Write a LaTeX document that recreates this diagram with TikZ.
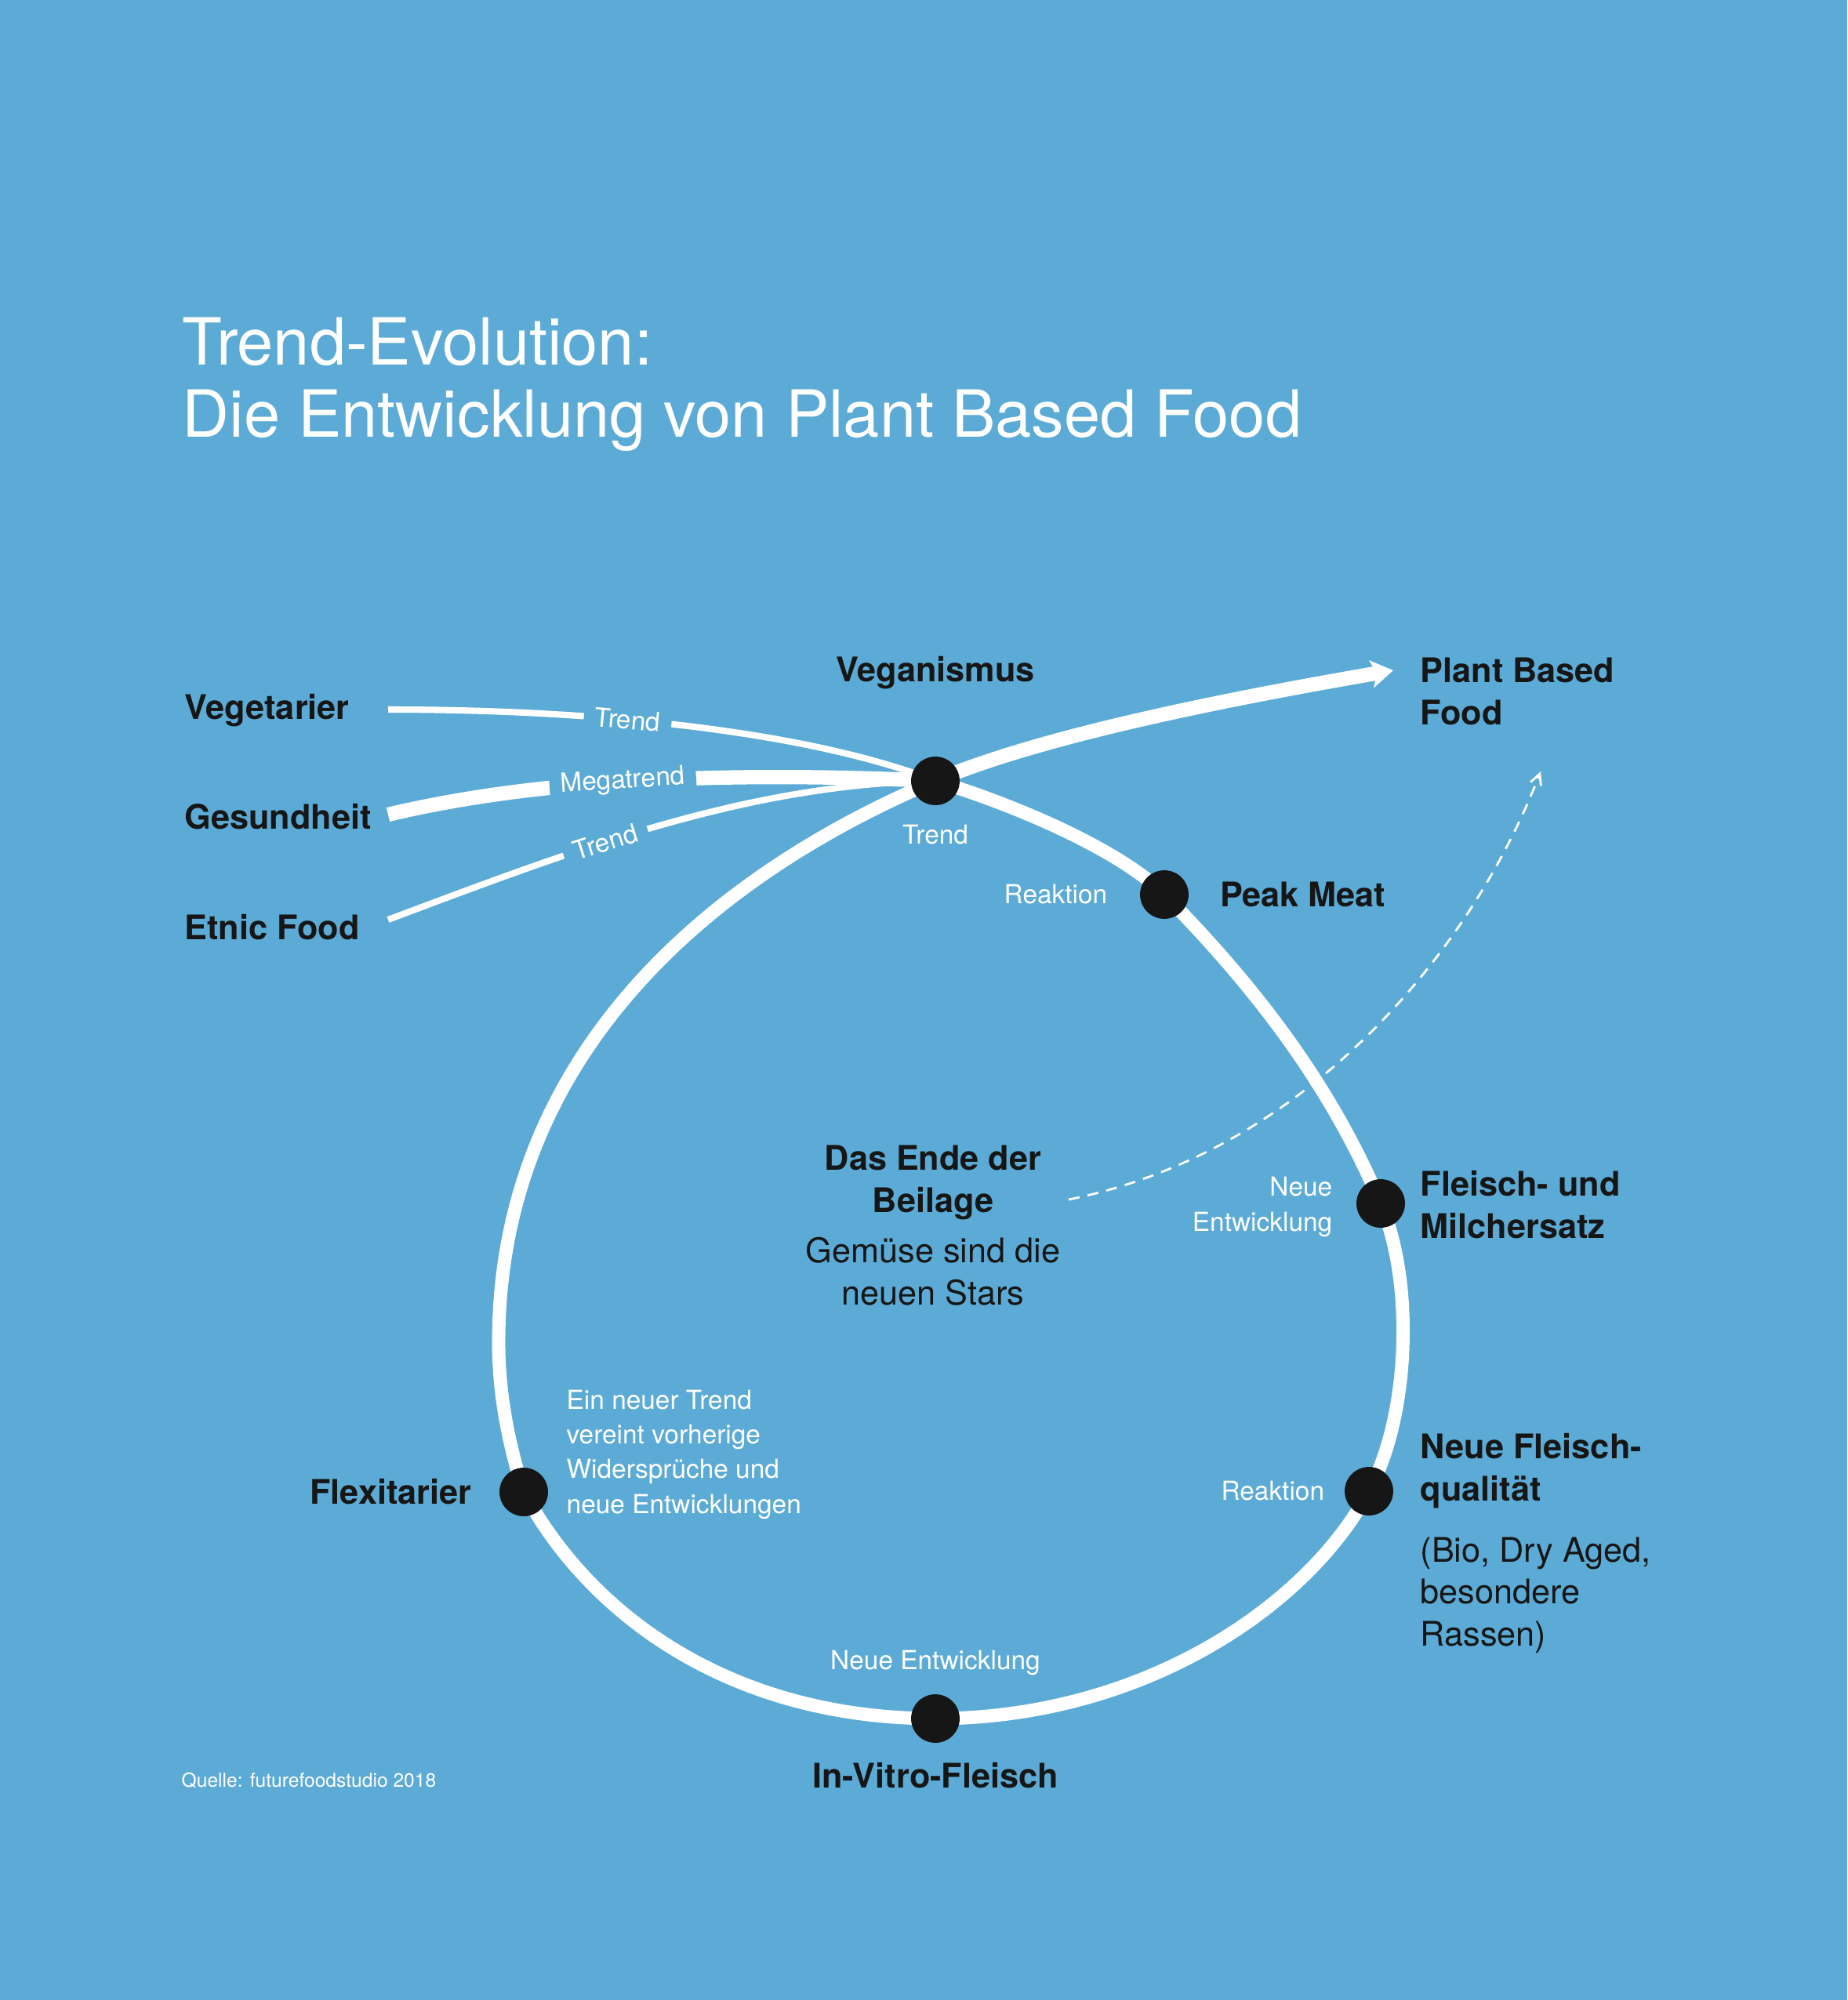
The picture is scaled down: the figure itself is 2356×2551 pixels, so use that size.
\documentclass[tikz,border=0pt]{standalone}
\usepackage{fontspec}
\setmainfont{TeX Gyre Heros}
\usetikzlibrary{arrows.meta,backgrounds,positioning}
\definecolor{bgblue}{HTML}{5CABD6}
\definecolor{ink}{HTML}{161616}

\begin{document}
\begin{tikzpicture}[x=0.01cm,y=-0.01cm]
    \tikzstyle{main}=[circle, fill=ink, minimum size=17.6pt, inner sep=0pt]
    \tikzstyle{headline}=[inner sep=0pt, text=white, font=\fontsize{23.6}{25.9}\selectfont, align=left]
    \tikzstyle{topic}=[inner sep=0pt, text=ink, font=\bfseries\fontsize{12.3}{15.2}\selectfont, align=left]
    \tikzstyle{desc}=[inner sep=0pt, text=ink, font=\fontsize{12.3}{15.2}\selectfont, align=left]
    \tikzstyle{note}=[inner sep=0pt, text=white, font=\fontsize{9.5}{12.6}\selectfont]
    \tikzstyle{tag}=[note, fill=bgblue, inner xsep=4pt, inner ysep=1.5pt, sloped]
    \tikzstyle{connect}=[white, line width=4.8pt]
    \tikzstyle{trend}=[white, line width=2.3pt]
    % dots on the loop
    \node[main] (vegan) at (1193,996) {};
    \node[main] (peak) at (1485,1141) {};
    \node[main] (ersatz) at (1761,1535) {};
    \node[main] (quali) at (1746,1902) {};
    \node[main] (vitro) at (1193,2192) {};
    \node[main] (flexi) at (668,1903) {};
    \coordinate (leftmost) at (636,1712);
    \coordinate (tip) at (1777,855);
    \coordinate (vegS) at (495,905);
    \coordinate (gesS) at (495,1039);
    \coordinate (etnS) at (495,1173);
    \coordinate (dashS) at (1363,1530);
    \coordinate (dashE) at (1965,984);
    \begin{pgfonlayer}{background}
    \fill[bgblue] (0,0) rectangle (2356,2551);
    \draw[trend] (vegS) .. controls (800,905) and (1050,940) .. (vegan.center) node[tag, pos=0.36] {Trend};
    \draw[white, line width=5.2pt] (gesS) .. controls (700,990) and (950,985) .. (vegan.center) node[tag, pos=0.45] {Megatrend};
    \draw[trend] (etnS) .. controls (730,1085) and (950,1000) .. (vegan.center) node[tag, pos=0.4] {Trend};
    \draw[connect] (vegan.center) .. controls (1293,1026) and (1429,1084) .. (peak.center)
        .. controls (1597,1255) and (1695,1379) .. (ersatz.center)
        .. controls (1804,1636) and (1798,1805) .. (quali.center)
        .. controls (1666,2052) and (1453,2192) .. (vitro.center)
        .. controls (933,2192) and (753,2061) .. (flexi.center)
        .. controls (650,1846) and (636,1782) .. (leftmost)
        .. controls (636,1350) and (900,1120) .. (vegan.center);
    \draw[white, line width=5.2pt, -{Stealth[length=8pt,width=10pt,inset=2pt]}] (vegan.center) .. controls (1331,937) and (1580,889) .. (tip);
    \draw[white, line width=0.8pt, dash pattern=on 4pt off 3pt, -{Straight Barb[length=4pt,width=4pt]}] (dashS) .. controls (1663,1470) and (1875,1217) .. (dashE);
    \end{pgfonlayer}
    % texts
    \node[headline, anchor=base west] (title) at (232,557) {Trend-Evolution:\\Die Entwicklung von Plant Based Food};
    \node[topic, anchor=base west] (vegetarier) at (235,917) {Vegetarier};
    \node[topic, anchor=base west] (gesundheit) at (235,1057) {Gesundheit};
    \node[topic, anchor=base west] (etnic) at (235,1198) {Etnic Food};
    \node[topic, above=24pt of vegan] (veganismus) {Veganismus};
    \node[note, below=6.8pt of vegan] (trendlbl) {Trend};
    \node[topic, anchor=base west] (pbf) at (1811,924) {Plant Based\\Food};
    \node[topic, right=11pt of peak] (peakmeat) {Peak Meat};
    \node[note, left=11.5pt of peak] (reak1) {Reaktion};
    \node[topic, anchor=base west] (ersatztext) at (1811,1579) {Fleisch- und\\Milchersatz};
    \node[note, anchor=base east, align=right] (neu1) at (1700,1570) {Neue\\Entwicklung};
    \node[topic, anchor=base west] (qualitext) at (1811,1914) {Neue Fleisch-\\qualität};
    \node[note, left=7pt of quali] (reak2) {Reaktion};
    \node[desc, anchor=base west] (rassen) at (1811,2099) {(Bio, Dry Aged,\\besondere\\Rassen)};
    \node[topic, below=6.8pt of vitro] (vitrotext) {In-Vitro-Fleisch};
    \node[note, above=6.5pt of vitro] (neu2) {Neue Entwicklung};
    \node[topic, left=9.7pt of flexi] (flexitext) {Flexitarier};
    \node[note, anchor=base west, align=left] (flexinote) at (722,1930) {Ein neuer Trend\\vereint vorherige\\Widersprüche und\\neue Entwicklungen};
    \node[topic, anchor=base, align=center] (beilage) at (1190,1546) {Das Ende der\\Beilage};
    \node[desc, anchor=base, align=center] (stars) at (1190,1664) {Gemüse sind die\\neuen Stars};
    \node[note, font=\fontsize{7}{8}\selectfont, anchor=base west] (source) at (231,2279) {Quelle: futurefoodstudio 2018};
\end{tikzpicture}
\end{document}
